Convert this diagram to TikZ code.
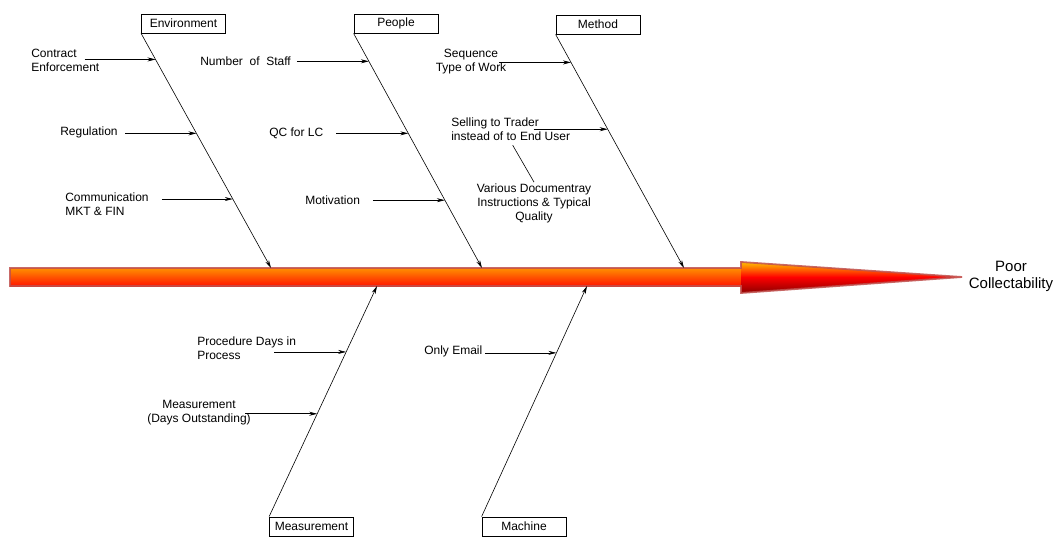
\documentclass[tikz,border=0pt]{standalone}
\usepackage{fontspec}
\setmainfont{Liberation Sans}
\usepackage{tikz}
\usetikzlibrary{%
  arrows.meta,%
  positioning,%
  calc%
}
\definecolor{spineline}{HTML}{C0504D}
\definecolor{shafttop}{HTML}{FF9000}
\definecolor{shaftbot}{HTML}{FF1500}
\definecolor{headtop}{HTML}{FFC000}
\definecolor{headmid}{HTML}{FF0000}
\definecolor{headbot}{HTML}{8B0000}

\begin{document}
\begin{tikzpicture}[x=1pt,y=-1pt,line width=0.6pt,
    every node/.style={font=\fontsize{12}{14}\selectfont},
    category/.style={draw, fill=white, minimum width=84pt, minimum height=19pt, inner sep=0pt, line width=0.8pt},
    cause/.style={align=left, inner sep=1pt},
    bone/.style={-{Stealth[length=8pt,width=4pt]}},
    twig/.style={-{Stealth[length=8pt,width=4pt]}}]
    \useasboundingbox (0,0) rectangle (1054,537);

    %spine
    \shade[top color=shafttop, bottom color=shaftbot] (10,268) rectangle (742,286);
    \shade[top color=headtop, bottom color=headmid] (741,262) -- (962,277) -- (741,277) -- cycle;
    \shade[top color=headmid, bottom color=headbot] (741,277) -- (962,277) -- (741,293) -- cycle;
    \draw[spineline, line width=1.8pt, line join=miter, opacity=0.85] (10,268) -- (741,268) -- (741,262) -- (962,277) -- (741,293) -- (741,286) -- (10,286) -- cycle;
    \node[font=\fontsize{15}{17}\selectfont, align=center] (effect) at (1011,276) {Poor\\Collectability};

    %categories
    \node[category] (env) at (183.5,23.5) {Environment};
    \node[category] (peo) at (396,23.5) {People};
    \node[category] (met) at (598,24.5) {Method};
    \node[category] (mea) at (311.5,526.5) {Measurement};
    \node[category] (mac) at (524,526.5) {Machine};

    \coordinate (env_end) at (271,268);
    \coordinate (peo_end) at (482,268);
    \coordinate (met_end) at (684,268);
    \coordinate (mea_end) at (377,286);
    \coordinate (mac_end) at (587,286);

    %bones
    \draw[bone] (env.south west) -- coordinate[pos=0.111] (env_1) coordinate[pos=0.426] (env_2) coordinate[pos=0.706] (env_3) (env_end);
    \draw[bone] (peo.south west) -- coordinate[pos=0.119] (peo_1) coordinate[pos=0.426] (peo_2) coordinate[pos=0.711] (peo_3) (peo_end);
    \draw[bone] (met.south west) -- coordinate[pos=0.120] (met_1) coordinate[pos=0.406] (met_2) (met_end);
    \draw[bone] (mea.north west) -- coordinate[pos=0.446] (mea_2) coordinate[pos=0.714] (mea_1) (mea_end);
    \draw[bone] (mac.north west) -- coordinate[pos=0.710] (mac_1) (mac_end);

    %causes
    \node[cause, anchor=west] (c_contract) at (30,60) {Contract\\Enforcement};
    \node[cause, anchor=west] (c_regulation) at (59,132) {Regulation};
    \node[cause, anchor=west] (c_comm) at (64,204) {Communication\\MKT \& FIN};
    \node[cause, anchor=west] (c_staff) at (199,61) {Number \ of \ Staff};
    \node[cause, anchor=west] (c_qc) at (268,133) {QC for LC};
    \node[cause, anchor=west] (c_motiv) at (304,200) {Motivation};
    \node[cause, align=center] (c_seq) at (471,62) {Sequence\\Type of Work};
    \node[cause, anchor=west] (c_sell) at (450,129) {Selling to Trader\\instead of to End User};
    \node[cause, align=center] (c_vari) at (534,203) {Various Documentray\\Instructions \& Typical\\Quality};
    \node[cause, anchor=west] (c_proc) at (196,348) {Procedure Days in\\Process};
    \node[cause, align=center] (c_days) at (199,413) {Measurement\\(Days Outstanding)};
    \node[cause, anchor=west] (c_email) at (423,351) {Only Email};

    \draw[twig] ([xshift=-71pt]env_1) -- (env_1);
    \draw[twig] ([xshift=-71pt]env_2) -- (env_2);
    \draw[twig] ([xshift=-71pt]env_3) -- (env_3);
    \draw[twig] ([xshift=-72pt]peo_1) -- (peo_1);
    \draw[twig] ([xshift=-72pt]peo_2) -- (peo_2);
    \draw[twig] ([xshift=-72pt]peo_3) -- (peo_3);
    \draw[twig] ([xshift=-72pt]met_1) -- (met_1);
    \draw[twig] ([xshift=-74pt]met_2) -- (met_2);
    \draw[twig] ([xshift=-72pt]mea_1) -- (mea_1);
    \draw[twig] ([xshift=-72pt]mea_2) -- (mea_2);
    \draw[twig] ([xshift=-71pt]mac_1) -- (mac_1);
    \draw[shorten <=4pt] (c_sell.south) -- (c_vari.north);

\end{tikzpicture}
\end{document}
